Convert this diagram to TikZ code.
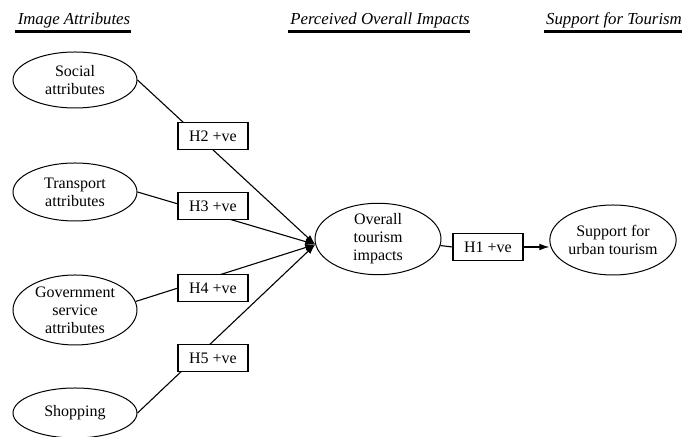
\documentclass[tikz,border=0pt]{standalone}
\usepackage{fontspec}
\setmainfont{Liberation Serif}
\usetikzlibrary{shapes.geometric,arrows.meta,backgrounds}

\tikzset{
  construct/.style={ellipse, draw, line width=0.5pt, inner sep=0pt,
    minimum width=62pt, align=center, font=\fontsize{8}{9}\selectfont},
  hyp/.style={rectangle, draw, line width=0.6pt, fill=white, inner sep=0pt,
    minimum width=35pt, minimum height=13.5pt, font=\fontsize{8}{9}\selectfont},
  heading/.style={font=\fontsize{8.4}{10}\selectfont\itshape, inner sep=0pt, anchor=base},
  headrule/.style={line width=1.1pt},
  path/.style={line width=0.55pt, -{Latex[length=5pt,width=3.4pt]}},
  link/.style={line width=0.55pt}
}

\begin{document}
\begin{tikzpicture}[x=0.5pt,y=-0.5pt]
\useasboundingbox (0,0) rectangle (682,437);

% column headings
\node[heading] (hImg) at (74,25) {Image Attributes};
\node[heading] (hImp) at (380,25) {Perceived Overall Impacts};
\node[heading] (hSup) at (614,25) {Support for Tourism};
\foreach \h in {hImg,hImp,hSup}
  \draw[headrule] ([xshift=-1pt,yshift=-3.3pt]\h.base west) -- ([yshift=-3.3pt]\h.base east);

% image attributes
\node[construct, minimum height=28pt] (soc) at (75,80)  {Social\\attributes};
\node[construct, minimum height=29pt] (tra) at (75,192) {Transport\\attributes};
\node[construct, minimum height=35pt] (gov) at (75,310) {Government\\service\\attributes};
\node[construct, minimum height=25pt] (sho) at (75,413) {Shopping};

% outcome constructs
\node[construct, minimum width=63pt, minimum height=35pt] (ov)  at (378,239) {Overall\\tourism\\impacts};
\node[construct, minimum width=63pt, minimum height=35pt] (sup) at (613,240) {Support for\\urban tourism};

% hypotheses
\node[hyp] (h2) at (213,136) {H2 +ve};
\node[hyp] (h3) at (213,206) {H3 +ve};
\node[hyp] (h4) at (213,288) {H4 +ve};
\node[hyp] (h5) at (213,358) {H5 +ve};
\node[hyp] (h1) at (488,247) {H1 +ve};

\coordinate (conv) at (ov.185);

\begin{scope}[on background layer]
  \draw[path] (soc.east) -- (conv);
  \draw[path] (tra.east) -- (conv);
  \draw[path] (gov.8)    -- (conv);
  \draw[path] (sho.east) -- (conv);
  \draw[link] (ov.-6) -- (h1.west);
  \draw[path] (h1.east) -- (sup.west |- h1.east);
\end{scope}
\end{tikzpicture}
\end{document}
